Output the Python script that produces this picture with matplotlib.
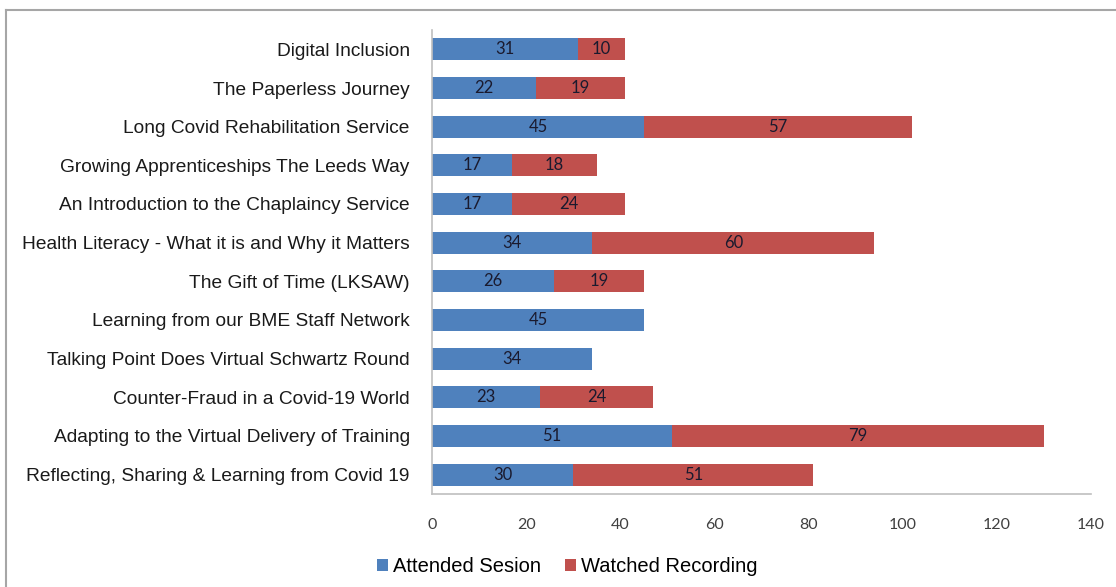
import matplotlib.pyplot as plt
from matplotlib.lines import Line2D

categories = [
    "Digital Inclusion",
    "The Paperless Journey",
    "Long Covid Rehabilitation Service",
    "Growing Apprenticeships The Leeds Way",
    "An Introduction to the Chaplaincy Service",
    "Health Literacy - What it is and Why it Matters",
    "The Gift of Time (LKSAW)",
    "Learning from our BME Staff Network",
    "Talking Point Does Virtual Schwartz Round",
    "Counter-Fraud in a Covid-19 World",
    "Adapting to the Virtual Delivery of Training",
    "Reflecting, Sharing & Learning from Covid 19",
]
attended = [31, 22, 45, 17, 17, 34, 26, 45, 34, 23, 51, 30]
watched = [10, 19, 57, 18, 24, 60, 19, 0, 0, 24, 79, 51]

blue = "#4F81BD"
red = "#C0504D"

fig = plt.figure(figsize=(11.16, 5.87), dpi=100)
ax = fig.add_axes([432 / 1116, 1 - 494 / 587, (1091 - 432) / 1116, (494 - 30) / 587])

y = list(range(len(categories)))
b1 = ax.barh(y, attended, height=0.57, color=blue, label="Attended Sesion")
b2 = ax.barh(y, watched, left=attended, height=0.57, color=red, label="Watched Recording")

for bars, vals in ((b1, attended), (b2, watched)):
    labels = [str(v) if v else "" for v in vals]
    ax.bar_label(bars, labels=labels, label_type="center", fontsize=12,
                 color="#1a1a2e", family="Lato")

ax.set_ylim(len(categories) - 0.5, -0.5)
ax.set_xlim(0, 140)
ax.set_xticks(range(0, 141, 20))
ax.set_yticks(y, categories)
for lab in ax.get_yticklabels():
    lab.set_fontfamily("Liberation Sans")
    lab.set_fontsize(13.8)
    lab.set_color("#1a1a1a")
for lab in ax.get_xticklabels():
    lab.set_fontfamily("Lato")
    lab.set_fontsize(11.5)
    lab.set_color("#404040")
ax.tick_params(axis="y", length=0, pad=16)
ax.tick_params(axis="x", length=0, pad=17)

ax.spines[["top", "right"]].set_visible(False)
ax.spines["left"].set_color("#bfbfbf")
ax.spines["bottom"].set_color("#bfbfbf")
ax.spines["left"].set_linewidth(1.2)
ax.spines["bottom"].set_linewidth(1.2)

leg = fig.legend(handles=[b1, b2], loc="center", bbox_to_anchor=(567 / 1116, 1 - 567 / 587),
                 ncol=2, frameon=False, handlelength=0.55, handleheight=0.55,
                 handletextpad=0.25, columnspacing=1.2,
                 prop={"family": "Liberation Sans", "size": 14.5})

# outer frame
fig.add_artist(Line2D([6 / 1116, 6 / 1116], [0, 1 - 10 / 587], color="#a6a6a6", lw=1.5))
fig.add_artist(Line2D([6 / 1116, 1], [1 - 10 / 587, 1 - 10 / 587], color="#a6a6a6", lw=1.5))

fig.savefig("out.png", dpi=100)
